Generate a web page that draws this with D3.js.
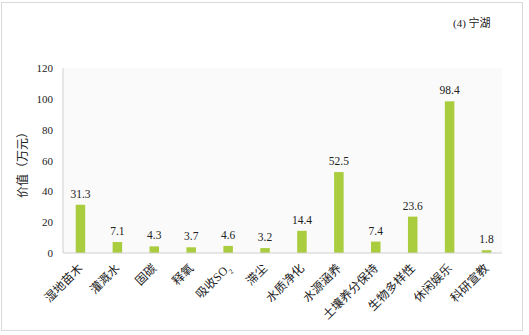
<!DOCTYPE html>
<meta charset="utf-8">
<style>
body { margin: 0; background: #fff; }
svg text { font-family: 'Liberation Serif', 'Noto Sans CJK SC', serif; fill: #222; }
</style>
<svg width="529" height="335"></svg>
<script src="https://d3js.org/d3.v7.min.js"></script>
<script>

var categories = ["湿地苗木", "灌溉水", "固碳", "释氧", "吸收SO2", "滞尘", "水质净化", "水源涵养", "土壤养分保持", "生物多样性", "休闲娱乐", "科研宣教"];
var values = [31.3, 7.1, 4.3, 3.7, 4.6, 3.2, 14.4, 52.5, 7.4, 23.6, 98.4, 1.8];
var yTicks = [0, 20, 40, 60, 80, 100, 120];

var svg = d3.select("svg");

// outer frame
svg.append("rect")
    .attr("x", 1.5).attr("y", 2.5)
    .attr("width", 521).attr("height", 328)
    .attr("fill", "#fff").attr("stroke", "#d9d9d9");

var plot = {left: 63, right: 502, top: 68, bottom: 253};

svg.append("rect")
    .attr("x", plot.left).attr("y", plot.top)
    .attr("width", plot.right - plot.left).attr("height", plot.bottom - plot.top)
    .attr("fill", "#fafafa");

var x = d3.scaleBand().domain(categories).range([62, 505]);
var y = d3.scaleLinear().domain([0, 120]).range([plot.bottom, plot.top]);

var barW = 9.5;

svg.selectAll(".bar")
  .data(values)
  .enter().append("rect")
    .attr("class", "bar")
    .attr("x", function(d, i) { return x(categories[i]) + x.bandwidth() / 2 - barW / 2; })
    .attr("y", function(d) { return y(d); })
    .attr("width", barW)
    .attr("height", function(d) { return y(0) - y(d); })
    .attr("fill", "#a9cd3e");

svg.selectAll(".val")
  .data(values)
  .enter().append("text")
    .attr("class", "val")
    .attr("x", function(d, i) { return x(categories[i]) + x.bandwidth() / 2; })
    .attr("y", function(d) { return y(d) - 7; })
    .attr("text-anchor", "middle")
    .style("font-size", "11.5px")
    .text(function(d) { return d.toFixed(1); });

// axis lines
svg.append("line")
    .attr("x1", plot.left).attr("x2", plot.left)
    .attr("y1", plot.top).attr("y2", plot.bottom)
    .attr("stroke", "#d0d0d0");
svg.append("line")
    .attr("x1", plot.left).attr("x2", plot.right)
    .attr("y1", plot.bottom).attr("y2", plot.bottom)
    .attr("stroke", "#d0d0d0");

var yAxis = svg.append("g")
    .attr("transform", "translate(" + plot.left + ",0)")
    .call(d3.axisLeft(y).tickValues(yTicks).tickSize(0).tickPadding(10));
yAxis.select(".domain").remove();
yAxis.selectAll("text")
    .style("font-family", "'Liberation Serif', serif")
    .style("font-size", "11px")
    .attr("fill", "#222");

// x labels, rotated
var xl = svg.selectAll(".xl")
  .data(categories)
  .enter().append("text")
    .attr("class", "xl")
    .attr("text-anchor", "end")
    .style("font-size", "12px")
    .attr("transform", function(d) {
      return "translate(" + (x(d) + x.bandwidth() / 2 + 3) + "," + (plot.bottom + 16) + ") rotate(-45)";
    });

xl.each(function(d) {
  var t = d3.select(this);
  if (d === "吸收SO2") {
    t.append("tspan").text("吸收SO");
    t.append("tspan").attr("baseline-shift", "sub").style("font-size", "7px").text("2");
  } else {
    t.text(d);
  }
});

svg.append("text")
    .attr("transform", "translate(27,162) rotate(-90)")
    .attr("text-anchor", "middle")
    .style("font-size", "12px")
    .text("价值（万元）");

svg.append("text")
    .attr("x", 453).attr("y", 27)
    .style("font-size", "11px")
    .text("(4) 宁湖");

</script>
